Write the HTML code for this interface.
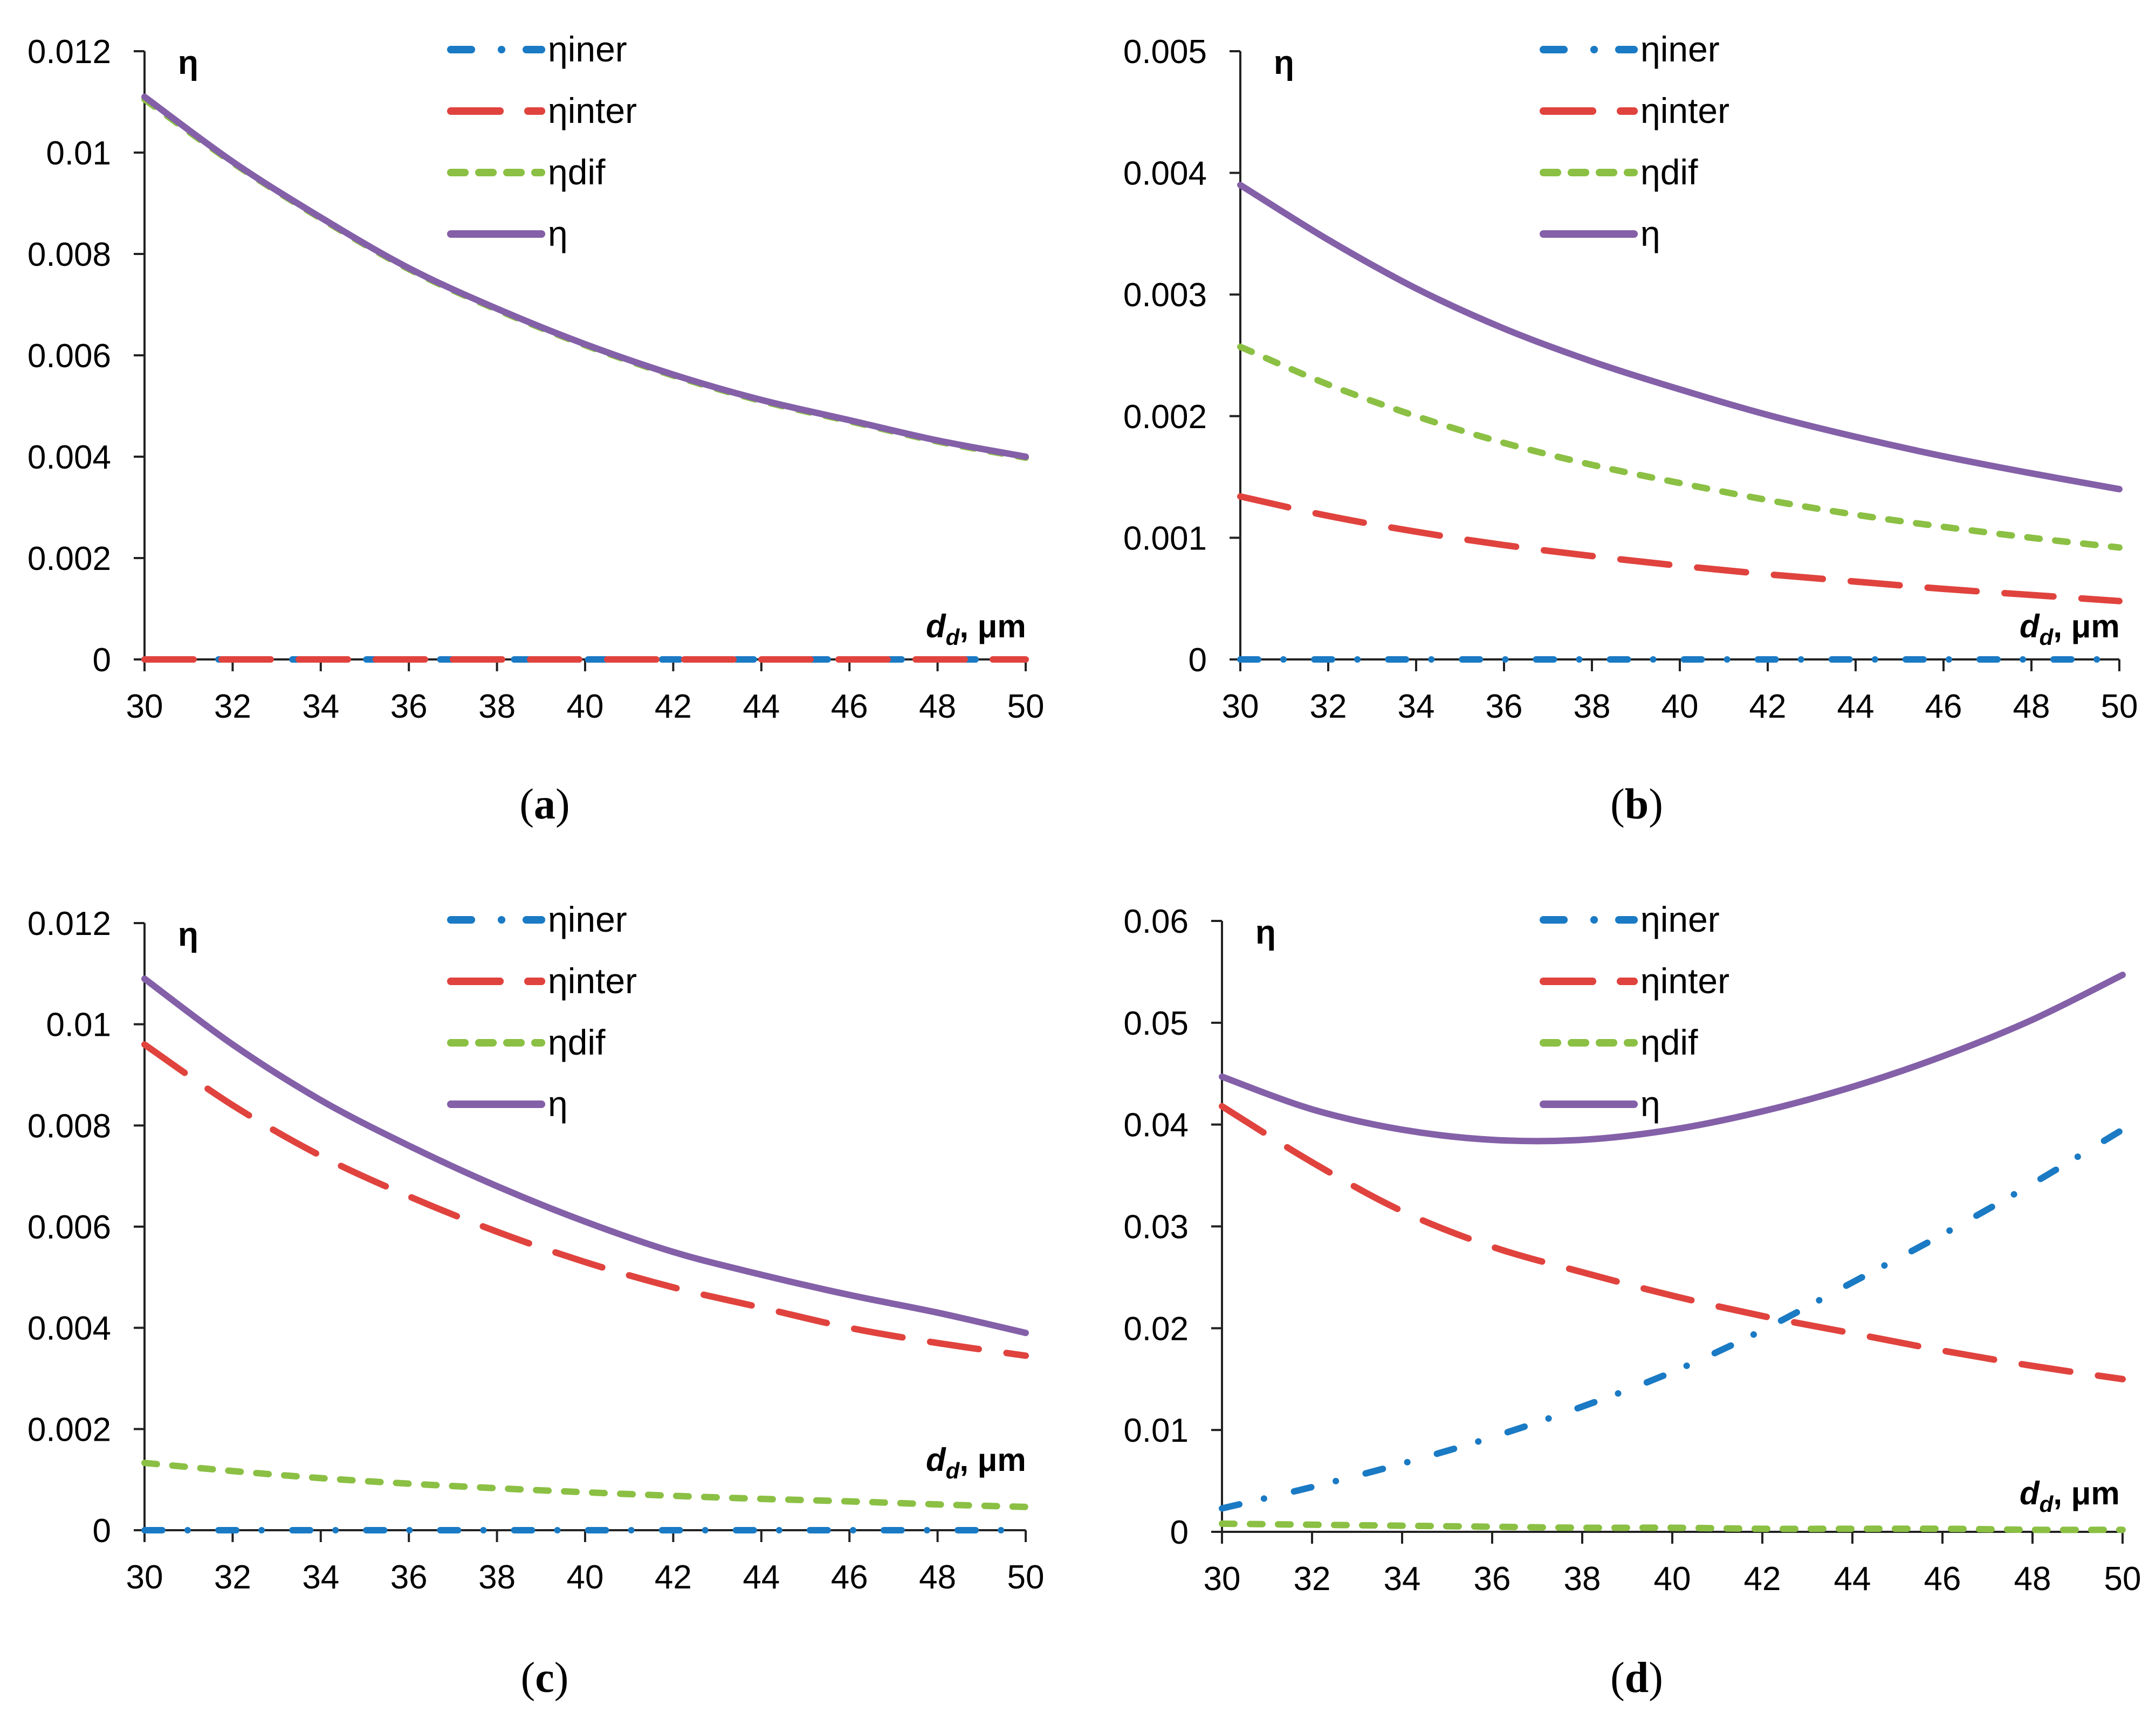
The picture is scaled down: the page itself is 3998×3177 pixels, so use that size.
<!DOCTYPE html>
<html><head><meta charset="utf-8">
<style>
html,body{margin:0;padding:0;background:#fff;}
svg{display:block;}
text{font-family:"Liberation Sans",sans-serif;fill:#000;}
</style></head>
<body>
<svg id="fig" width="3998" height="3177" viewBox="0 0 3998 3177" xmlns="http://www.w3.org/2000/svg"></svg>
<script>
const xCats = [30,32,34,36,38,40,42,44,46,48,50];
const xTickLabels = ["30","32","34","36","38","40","42","44","46","48","50"];

const aIner  = [0,0,0,0,0,0,0,0,0,0,0];
const aInter = [0,0,0,0,0,0,0,0,0,0,0];
const aDif   = [0.01105,0.0098,0.0087,0.0077,0.0069,0.0062,0.0056,0.0051,0.0047,0.0043,0.00398];
const aEta   = [0.0111,0.00982,0.00872,0.00772,0.00692,0.00622,0.00562,0.00512,0.00472,0.00432,0.004];
const aYTicks = [0,0.002,0.004,0.006,0.008,0.01,0.012];
const aYLabels = ["0","0.002","0.004","0.006","0.008","0.01","0.012"];

const bIner  = [0,0,0,0,0,0,0,0,0,0,0];
const bInter = [0.00134,0.00118,0.00105,0.00094,0.00085,0.00077,0.0007,0.00064,0.00058,0.00053,0.00048];
const bDif   = [0.00257,0.00226,0.002,0.00178,0.0016,0.00145,0.00131,0.00119,0.00109,0.001,0.00092];
const bEta   = [0.0039,0.00345,0.00305,0.00272,0.00245,0.00222,0.00201,0.00183,0.00167,0.00153,0.0014];
const bYTicks = [0,0.001,0.002,0.003,0.004,0.005];
const bYLabels = ["0","0.001","0.002","0.003","0.004","0.005"];

const cIner  = [0,0,0,0,0,0,0,0,0,0,0];
const cInter = [0.0096,0.0084,0.0074,0.0066,0.0059,0.0053,0.0048,0.0044,0.004,0.0037,0.00345];
const cDif   = [0.00133,0.00117,0.00103,0.00092,0.00083,0.00075,0.00068,0.00062,0.00057,0.00051,0.00046];
const cEta   = [0.0109,0.0096,0.0085,0.0076,0.0068,0.0061,0.0055,0.00505,0.00465,0.0043,0.0039];
const cYTicks = [0,0.002,0.004,0.006,0.008,0.01,0.012];
const cYLabels = ["0","0.002","0.004","0.006","0.008","0.01","0.012"];

const dIner  = [0.0023,0.0044,0.0067,0.0093,0.0123,0.0157,0.0198,0.0245,0.0292,0.0342,0.0395];
const dInter = [0.0418,0.0363,0.0315,0.028,0.0255,0.0232,0.0212,0.0195,0.0178,0.0163,0.015];
const dDif   = [0.0008,0.0007,0.0006,0.0005,0.0004,0.0004,0.0003,0.0003,0.0003,0.0002,0.0002];
const dEta   = [0.0447,0.0415,0.0395,0.0385,0.0385,0.0395,0.0413,0.0437,0.0467,0.0503,0.0547];
const dYTicks = [0,0.01,0.02,0.03,0.04,0.05,0.06];
const dYLabels = ["0","0.01","0.02","0.03","0.04","0.05","0.06"];

const legendLabels = ["ηiner","ηinter","ηdif","η"];
const NS = "http://www.w3.org/2000/svg";
const svg = document.getElementById('fig');
function mk(tag, attrs, parent){
  const e = document.createElementNS(NS, tag);
  for (const k in attrs) e.setAttribute(k, attrs[k]);
  (parent||svg).appendChild(e);
  return e;
}
const styles = [
  {color:"#1a7ac4", dash:"33 47 0.1 57", key:"iner", segs:[[6,44],[100,100],[146,174]]},
  {color:"#e0433e", dash:"91 52", key:"inter", segs:[[6,97],[149,174]]},
  {color:"#8bc044", dash:"23 29", key:"dif", segs:[[6,32],[58,84],[110,136],[162,174]]},
  {color:"#8460a8", dash:"", key:"eta", segs:[[6,174]]}
];
function smoothPath(pts){
  let d = "M"+pts[0][0]+","+pts[0][1];
  for (let i=0;i<pts.length-1;i++){
    const p0=pts[Math.max(0,i-1)], p1=pts[i], p2=pts[i+1], p3=pts[Math.min(pts.length-1,i+2)];
    const c1x=p1[0]+(p2[0]-p0[0])/6, c1y=p1[1]+(p2[1]-p0[1])/6;
    const c2x=p2[0]-(p3[0]-p1[0])/6, c2y=p2[1]-(p3[1]-p1[1])/6;
    d+=" C"+c1x+","+c1y+" "+c2x+","+c2y+" "+p2[0]+","+p2[1];
  }
  return d;
}
function panel(id, x0, x1, yTop, yZero, yMax, yTicks, yLabels, series, legX, legY, unitX, unitY, cap, capX, capY){
  const g = mk('g', {});
  
  
  const xs = v => x0 + (v - xCats[0])/(xCats[xCats.length-1]-xCats[0])*(x1-x0);
  const ys = v => yZero - v/yMax*(yZero-yTop);
  const ya = mk('line',{x1:x0,y1:yTop,x2:x0,y2:yZero+20,stroke:"#222","stroke-width":4},g);
  
  
  const xa = mk('line',{x1:x0-20,y1:yZero,x2:x1,y2:yZero,stroke:"#222","stroke-width":4},g);
  
  
  yTicks.forEach((t,i)=>{
    const y = ys(t);
    const tk = mk('line',{x1:x0-20,y1:y,x2:x0,y2:y,stroke:"#222","stroke-width":4},g);
    
    
    const tx = mk('text',{x:x0-62,y:y+22,"font-size":62,"text-anchor":"end"},g);
    tx.textContent = yLabels[i];
    
    
  });
  xCats.forEach((c,i)=>{
    const x = xs(c);
    const tk = mk('line',{x1:x,y1:yZero,x2:x,y2:yZero+22,stroke:"#222","stroke-width":4},g);
    
    
    const tx = mk('text',{x:x,y:yZero+108,"font-size":62,"text-anchor":"middle"},g);
    tx.textContent = xTickLabels[i];
    
    
  });
  series.forEach((s,si)=>{
    const st = styles[si];
    const pts = s.map((v,i)=>[xs(xCats[i]), ys(v)]);
    const p = mk('path',{d:smoothPath(pts),fill:"none",stroke:st.color,"stroke-width":12,"stroke-linecap":"round","stroke-linejoin":"round"},g);
    if (st.dash) p.setAttribute('stroke-dasharray', st.dash);
    
    
  });
  legendLabels.forEach((lab,i)=>{
    const st = styles[i];
    const y = legY + i*114;
    const lg = mk('g',{},g);
    
    
    st.segs.forEach(sg=>{
      mk('line',{x1:legX+sg[0],y1:y,x2:legX+sg[1]+0.1,y2:y,stroke:st.color,"stroke-width":14,"stroke-linecap":"round"},lg);
    });
    const t = mk('text',{x:legX+186,y:y+22,"font-size":66},lg);
    t.textContent = lab;
  });
  const el = mk('text',{x:x0+62,y:yTop+42,"font-size":62,"font-weight":"bold"},g);
  el.textContent = "η";
  
  
  const ul = mk('text',{x:unitX,y:unitY,"font-size":60,"font-weight":"bold"},g);
  
  
  const t1 = mk('tspan',{"font-style":"italic"},ul); t1.textContent="d";
  const t2 = mk('tspan',{"font-style":"italic","font-size":42,dy:14},ul); t2.textContent="d";
  const t3 = mk('tspan',{dy:-14},ul); t3.textContent=",  μm";
  const cp = mk('text',{x:capX,y:capY,"font-size":80,"text-anchor":"middle",style:"font-family:'Liberation Serif',serif"},g);
  
  
  const c1=mk('tspan',{},cp); c1.textContent="(";
  const c2=mk('tspan',{"font-weight":"bold"},cp); c2.textContent=cap;
  const c3=mk('tspan',{},cp); c3.textContent=")";
}
panel('a',268,1902,95,1223,0.012,aYTicks,aYLabels,[aIner,aInter,aDif,aEta],830,92,1717,1182,'a',1010,1518);
panel('b',2300,3930,95,1223,0.005,bYTicks,bYLabels,[bIner,bInter,bDif,bEta],2856,92,3745,1182,'b',3035,1518);
panel('c',268,1902,1712,2838,0.012,cYTicks,cYLabels,[cIner,cInter,cDif,cEta],830,1706,1717,2728,'c',1010,3138);
panel('d',2266,3936,1708,2841,0.06,dYTicks,dYLabels,[dIner,dInter,dDif,dEta],2856,1706,3745,2790,'d',3035,3138);
</script>
</body></html>
